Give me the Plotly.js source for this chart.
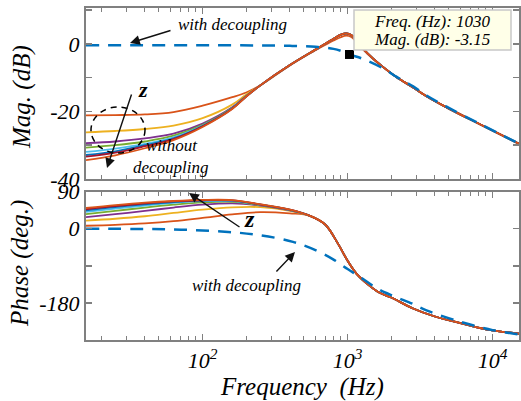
<!DOCTYPE html>
<html>
<head>
<meta charset="utf-8">
<script src="https://cdn.plot.ly/plotly-3.0.1.min.js"></script>
<style>html,body{margin:0;padding:0;background:#fff;}#chart{width:521px;height:401px;}</style>
</head>
<body>
<div id="chart"></div>
<script>
// ---------- data ----------
const curveNames = ['Z1', 'Z2', 'Z3', 'Z4', 'Z5', 'Z6', 'Z7', 'Z8'];
const curveColors = ['#D95319', '#EDB120', '#7E2F8E', '#77AC30', '#4DBEEE', '#0072BD', '#A2142F', '#D95319'];

// magnitude, without decoupling
const magFreqLow = [15.7, 25, 40, 63, 100, 160, 200];
const magLow = [
  [-21.2, -21.1, -20.9, -20.2, -18.3, -15.8, -14.4],
  [-26.2, -25.8, -25.2, -24.2, -22.0, -18.0, -15.0],
  [-29.4, -28.9, -28.0, -26.6, -23.6, -18.8, -15.4],
  [-30.7, -30.0, -28.9, -27.2, -24.0, -19.0, -15.5],
  [-32.0, -31.0, -29.6, -27.7, -24.2, -19.1, -15.5],
  [-32.9, -31.8, -30.0, -28.0, -24.3, -19.1, -15.5],
  [-33.4, -32.2, -30.3, -28.2, -24.4, -19.2, -15.6],
  [-34.4, -33.0, -30.9, -28.5, -24.6, -19.3, -15.6]
];
const magFreqHigh = [250, 400, 630, 800, 900, 980, 1060, 1150, 1280, 1500, 1760, 2180, 2830, 3500, 4810, 8170, 15600];
const magHigh = [-12.3, -6.3, -1.2, 1.5, 2.7, 3.1, 2.6, 1.0, -1.5, -4.4, -6.9, -9.9, -12.9, -15.5, -18.8, -23.8, -29.8];
const magHighLowPeak = [-12.3, -6.4, -1.4, 1.0, 2.0, 2.4, 2.0, 0.6, -1.7, -4.5, -6.9, -9.9, -12.9, -15.5, -18.8, -23.8, -29.8];

// phase, without decoupling
const phFreqLow = [15.7, 25, 40, 63, 100, 160, 250, 400];
const phLow = [
  [7, 9, 12.5, 18, 26, 34.5, 40, 37],
  [19.5, 24, 30, 38, 46, 51.5, 52, 43],
  [28, 35, 43, 51, 58, 61, 56, 44.5],
  [35, 43, 51, 58, 63.5, 65, 57, 45],
  [40.5, 48.5, 56, 62.5, 66.5, 67, 58, 45.5],
  [44, 52, 59, 64.5, 68, 68, 58, 45.5],
  [47, 54.5, 61, 66, 68.5, 68.5, 58.5, 46],
  [50, 57, 63, 67, 69.5, 69, 59, 46]
];
const phFreqHigh = [550, 700, 850, 1000, 1150, 1400, 1650, 2000, 2800, 4000, 6000, 9000, 15600];
const phHigh = [31, 10, -34, -78, -109, -137, -155, -167, -193, -213, -229, -244, -255];

// with decoupling
const decFreqMag = [15.7, 100, 250, 400, 600, 800, 900, 1030, 1280, 1760, 2180, 2830, 3500, 4810, 8170, 15600];
const decMag = [-0.4, -0.4, -0.5, -0.6, -0.9, -1.5, -2.1, -3.15, -4.5, -7.3, -9.8, -12.6, -15.3, -18.6, -23.7, -29.8];
const decFreqPh = [15.7, 40, 80, 150, 250, 420, 600, 800, 1000, 1215, 1600, 2060, 2800, 3500, 5900, 10000, 15600];
const decPh = [-0.4, -1, -3, -8, -16, -32, -52, -75, -98, -117, -145, -163, -182, -198, -225, -246, -257];

// data tip
const tipFreq = [1030];
const tipMag = [-3.15];

// tick labels
const magTickVals = [-40, -30, -20, -10, 0, 10];
const magTickText = ['-40', '', '-20', '', '0', ''];
const phTickVals = [-270, -180, -90, 0, 90];
const phTickText = ['', '-180', '', '0', '90'];
const freqTickVals = [100, 1000, 10000];
const freqTickText = ['10<sup>2</sup>', '10<sup>3</sup>', '10<sup>4</sup>'];

// ---------- traces ----------
const traces = [];
const serif = 'Liberation Serif, Times New Roman, serif';
curveNames.forEach((n, i) => {
  const hi = (i === 0) ? magHighLowPeak : magHigh;
  traces.push({
    x: magFreqLow.concat(magFreqHigh), y: magLow[i].concat(hi),
    xaxis: 'x', yaxis: 'y', mode: 'lines', name: n,
    line: {color: curveColors[i], width: 1.8, shape: 'spline', smoothing: 1}
  });
});
curveNames.forEach((n, i) => {
  traces.push({
    x: phFreqLow.concat(phFreqHigh), y: phLow[i].concat(phHigh),
    xaxis: 'x2', yaxis: 'y2', mode: 'lines', name: n,
    line: {color: curveColors[i], width: 1.8, shape: 'spline', smoothing: 1}
  });
});
traces.push({x: decFreqMag, y: decMag, xaxis: 'x', yaxis: 'y', mode: 'lines',
  line: {color: '#0072BD', width: 2.5, dash: '13px,9px', shape: 'spline', smoothing: 1}});
traces.push({x: decFreqPh, y: decPh, xaxis: 'x2', yaxis: 'y2', mode: 'lines',
  line: {color: '#0072BD', width: 2.5, dash: '13px,9px', shape: 'spline', smoothing: 1}});
traces.push({x: tipFreq, y: tipMag, xaxis: 'x', yaxis: 'y', mode: 'markers',
  marker: {symbol: 'square', size: 9, color: '#000'}});

// ---------- layout ----------
const W = 521, H = 401, L = 86, R = 2, T = 8, B = 61;
const pw = W - L - R, ph = H - T - B;
const px = v => (v - L) / pw;
const py = v => (H - B - v) / ph;
const it = s => s === '' ? '' : '<i>' + s + '</i>';

const tickFont = {family: serif, size: 22, color: '#000', style: 'italic'};
const axCommon = {
  showline: true, linecolor: '#808080', linewidth: 2, mirror: 'ticks',
  ticks: 'inside', tickcolor: '#808080', ticklen: 6, tickwidth: 1.5,
  showgrid: false, zeroline: false, tickfont: tickFont
};
const xRange = [Math.log10(15.7), Math.log10(15200)];
const xCommon = Object.assign({}, axCommon, {
  type: 'log', range: xRange, tickmode: 'array', tickvals: freqTickVals, ticktext: freqTickText.map(it),
  minor: {ticks: 'inside', ticklen: 4, tickcolor: '#808080', tickwidth: 1, dtick: 'D1', showgrid: false}
});

const annFont = (s, extra) => Object.assign({family: serif, size: s, color: '#000', style: 'italic'}, extra || {});
const ann = [];
function txt(t, x, y, size, extra, opts) {
  ann.push(Object.assign({text: '<i>' + t + '</i>', x: px(x), y: py(y), xref: 'paper', yref: 'paper', showarrow: false,
    xanchor: 'center', yanchor: 'middle', font: annFont(size, extra)}, opts || {}));
}
function arrow(hx, hy, tx, ty) {
  ann.push({text: '', x: px(hx), y: py(hy), xref: 'paper', yref: 'paper', showarrow: true,
    ax: tx - hx, ay: ty - hy, arrowhead: 2, arrowsize: 1.4, arrowwidth: 1.4, arrowcolor: '#111'});
}
// axis titles
txt('Mag. (dB)', 22, 97, 25, {}, {textangle: -90});
txt('Phase (deg.)', 20, 264, 25, {}, {textangle: -90});
txt('Frequency\u00a0\u00a0(Hz)', 302, 387, 25);
// labels
txt('with decoupling', 232, 24, 17);
arrow(130, 43, 172, 30);
txt('<b>z</b>', 143, 90, 22, {weight: 'bold'});
arrow(107, 168, 132, 93);
txt('without', 172, 146, 17);
txt('decoupling', 171, 167, 17);
txt('<b>z</b>', 249, 219, 24, {weight: 'bold'});
arrow(189, 193, 241, 228);
txt('with decoupling', 246, 285, 17);
arrow(295, 252, 275, 273);
// data tip text
txt('Freq. (Hz): 1030', 372, 21, 17, {}, {xanchor: 'left'});
txt('Mag. (dB): -3.15', 372, 39, 17, {}, {xanchor: 'left'});

const shapes = [
  {type: 'rect', xref: 'paper', yref: 'paper', x0: px(354), x1: px(511), y0: py(50), y1: py(10),
   fillcolor: '#FFFFE8', line: {color: '#C8C8C8', width: 1.5}, layer: 'above'},
  {type: 'circle', xref: 'paper', yref: 'paper', x0: px(91), x1: px(145), y0: py(153), y1: py(107),
   line: {color: '#000', width: 1.5, dash: '6px,5px'}}
];

const layout = {
  width: W, height: H, margin: {l: L, r: R, t: T, b: B},
  paper_bgcolor: '#fff', plot_bgcolor: '#fff', showlegend: false,
  xaxis: Object.assign({}, xCommon, {anchor: 'y', showticklabels: false}),
  yaxis: Object.assign({}, axCommon, {domain: [py(179), 1], range: [-40, 10.6],
    tickmode: 'array', tickvals: magTickVals, ticktext: magTickText.map(it)}),
  xaxis2: Object.assign({}, xCommon, {anchor: 'y2', matches: 'x'}),
  yaxis2: Object.assign({}, axCommon, {domain: [0, py(191.5)], range: [-270, 90],
    tickmode: 'array', tickvals: phTickVals, ticktext: phTickText.map(it)}),
  annotations: ann, shapes: shapes
};

Plotly.newPlot('chart', traces, layout, {displayModeBar: false, staticPlot: true});
</script>
</body>
</html>
